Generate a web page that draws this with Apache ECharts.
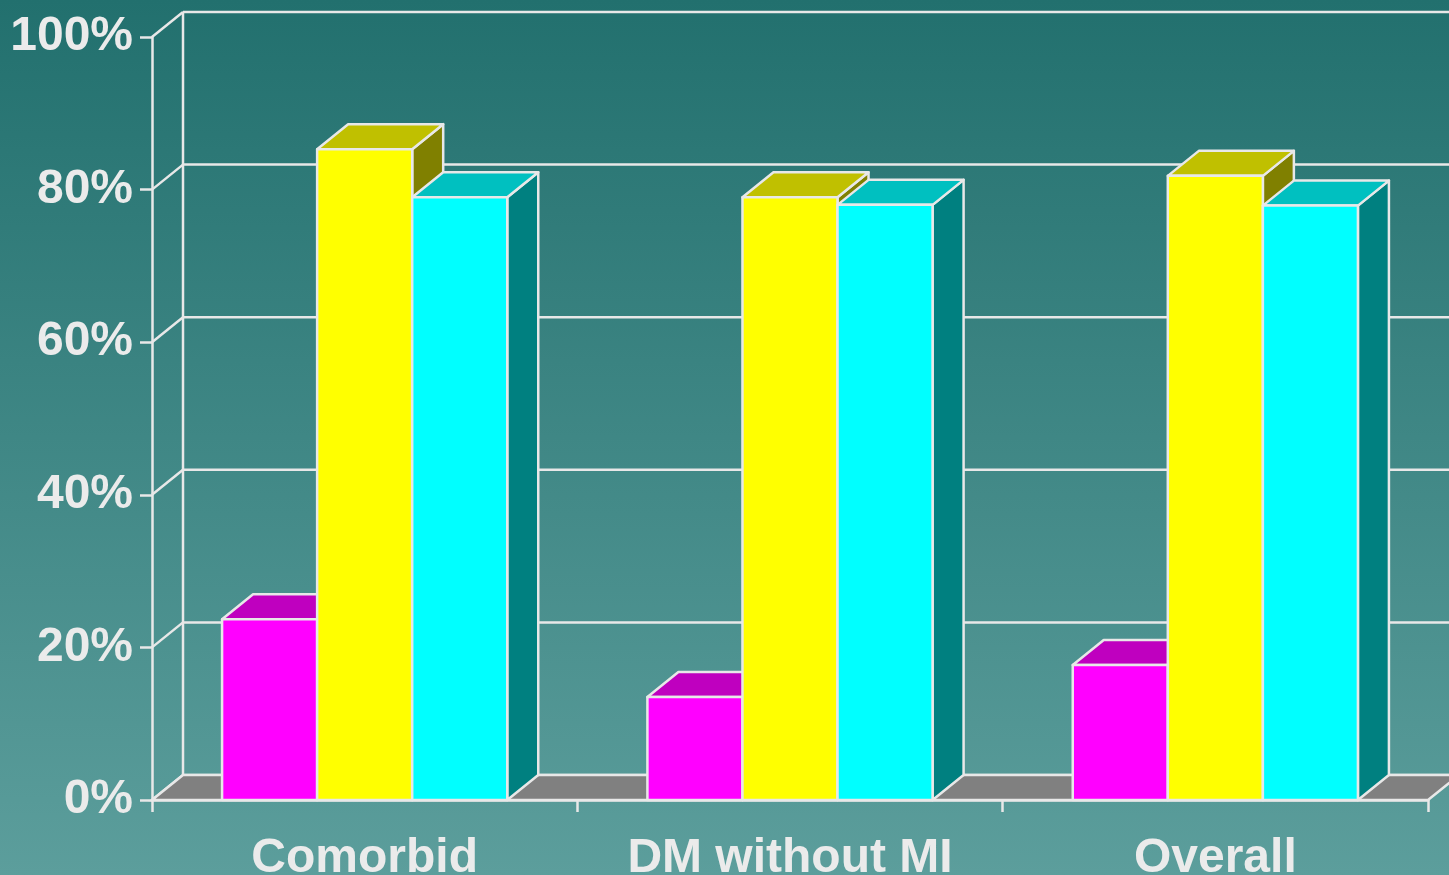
<!DOCTYPE html>
<html>
<head>
<meta charset="utf-8">
<script src="https://cdn.jsdelivr.net/npm/echarts@6/dist/echarts.min.js"></script>
<style>
  html, body { margin: 0; padding: 0; }
  #chart { width: 1449px; height: 875px; background: linear-gradient(to bottom, #22706E 0%, #5C9E9C 100%); }
</style>
</head>
<body>
<div id="chart"></div>
<script>
// ---- data ----
const categories = ['Comorbid', 'DM without MI', 'Overall'];
const seriesMagenta = [23.7, 13.5, 17.7];
const seriesYellow = [85.3, 79.0, 81.8];
const seriesCyan = [79.0, 78.0, 77.9];
const yTicks = [0, 20, 40, 60, 80, 100];

// ---- style ----
const DX = 31, DY = -25;
const LINE = '#e8e8e8';
const TEXT = '#ebebeb';
const FONT = "'Liberation Sans', Arial, sans-serif";
const BAR_FRAC = 0.2235;
const LW = 2.5;

const chart = echarts.init(document.getElementById('chart'), null, { renderer: 'canvas' });

function wallRender(params, api) {
  const v = api.value(0);
  const band = api.size([1, 0])[0];
  const c0 = api.coord([0, v]);
  const c2 = api.coord([categories.length - 1, v]);
  const x0 = c0[0] - band / 2;
  const x1 = c2[0] + band / 2;
  const y = c0[1];
  const children = [
    { type: 'line', shape: { x1: x0, y1: y, x2: x0 + DX, y2: y + DY }, style: { stroke: LINE, lineWidth: LW } },
    { type: 'line', shape: { x1: x0 + DX, y1: y + DY, x2: x1 + DX, y2: y + DY }, style: { stroke: LINE, lineWidth: LW } }
  ];
  if (params.dataIndex === 0) {
    const top = api.coord([0, yTicks[yTicks.length - 1]])[1];
    children.push({ type: 'line', shape: { x1: x0 + DX, y1: y + DY, x2: x0 + DX, y2: top + DY }, style: { stroke: LINE, lineWidth: LW } });
  }
  return { type: 'group', children };
}

function floorRender(params, api) {
  const band = api.size([1, 0])[0];
  const c0 = api.coord([0, 0]);
  const c2 = api.coord([categories.length - 1, 0]);
  const x0 = c0[0] - band / 2;
  const x1 = c2[0] + band / 2;
  const y = c0[1];
  return {
    type: 'polygon',
    shape: { points: [[x0, y], [x1, y], [x1 + DX, y + DY], [x0 + DX, y + DY]] },
    style: { fill: '#808080', stroke: LINE, lineWidth: LW }
  };
}

function makeBarRender(slot, front, topC, sideC) {
  return function (params, api) {
    const i = api.value(0);
    const v = api.value(1);
    const band = api.size([1, 0])[0];
    const w = band * BAR_FRAC;
    const ct = api.coord([i, v]);
    const cb = api.coord([i, 0]);
    const x = ct[0] + (slot - 0.5) * w;
    const yT = ct[1], yB = cb[1];
    const st = (fill) => ({ fill, stroke: LINE, lineWidth: LW, lineJoin: 'round' });
    return {
      type: 'group',
      children: [
        { type: 'polygon', shape: { points: [[x + w, yT], [x + w + DX, yT + DY], [x + w + DX, yB + DY], [x + w, yB]] }, style: st(sideC) },
        { type: 'polygon', shape: { points: [[x, yT], [x + DX, yT + DY], [x + w + DX, yT + DY], [x + w, yT]] }, style: st(topC) },
        { type: 'rect', shape: { x: x, y: yT, width: w, height: yB - yT }, style: st(front) }
      ]
    };
  };
}

function barData(arr) { return arr.map((v, i) => [i, v]); }

const option = {
  backgroundColor: 'transparent',
  animation: false,
  grid: { left: 152, right: 21, top: 37, bottom: 75, containLabel: false, outerBoundsMode: 'none' },
  xAxis: {
    type: 'category',
    data: categories,
    boundaryGap: true,
    axisLine: { show: true, lineStyle: { color: LINE, width: LW } },
    axisTick: { show: true, length: 12, lineStyle: { color: LINE, width: LW } },
    axisLabel: { color: TEXT, fontSize: 48, fontWeight: 'bold', fontFamily: FONT, margin: 35, lineHeight: 48 },
    splitLine: { show: false }
  },
  yAxis: {
    type: 'value',
    min: 0, max: 100, interval: 20,
    axisLine: { show: true, lineStyle: { color: LINE, width: LW } },
    axisTick: { show: true, length: 12, lineStyle: { color: LINE, width: LW } },
    axisLabel: { color: TEXT, fontSize: 48, fontWeight: 'bold', fontFamily: FONT, margin: 19, formatter: '{value}%', padding: [10, 0, 0, 0] },
    splitLine: { show: false }
  },
  series: [
    { type: 'custom', renderItem: wallRender, data: yTicks.map(v => [v]), encode: { y: 0 }, silent: true },
    { type: 'custom', renderItem: floorRender, data: [[0]], silent: true },
    { type: 'custom', renderItem: makeBarRender(-1, '#FF00FF', '#BF00BF', '#800080'), data: barData(seriesMagenta), encode: { x: 0, y: 1 } },
    { type: 'custom', renderItem: makeBarRender(0, '#FFFF00', '#C0C000', '#808000'), data: barData(seriesYellow), encode: { x: 0, y: 1 } },
    { type: 'custom', renderItem: makeBarRender(1, '#00FFFF', '#00C0C0', '#008080'), data: barData(seriesCyan), encode: { x: 0, y: 1 } }
  ]
};
chart.setOption(option);
</script>
</body>
</html>
